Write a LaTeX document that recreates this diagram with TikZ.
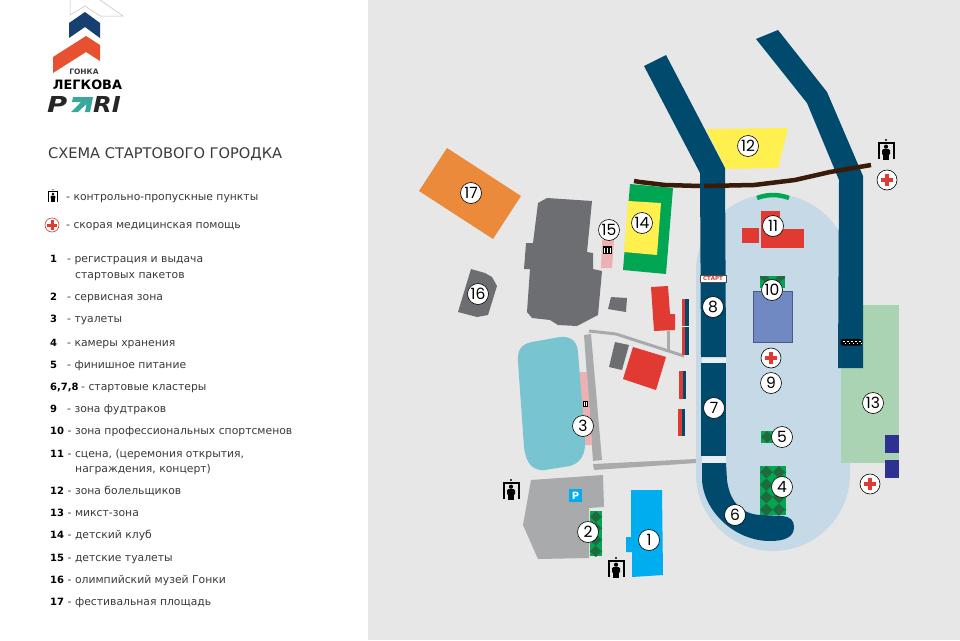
\documentclass[tikz,border=0pt]{standalone}
\usepackage{fontspec}
\setmainfont{DejaVu Sans}
\newfontfamily\numfont{Poppins}
\definecolor{bgr}{HTML}{E7E7E8}
\definecolor{trk}{HTML}{004A6E}
\definecolor{oval}{HTML}{C5D9E6}
\definecolor{gapc}{HTML}{E8EEF2}
\definecolor{redz}{HTML}{E03A33}
\definecolor{darkg}{HTML}{6D6E71}
\definecolor{lgray}{HTML}{A9AAAC}
\definecolor{gre}{HTML}{00A651}
\definecolor{dgre}{HTML}{1F6B3F}
\definecolor{yel}{HTML}{FFF04F}
\definecolor{teal1}{HTML}{78C4D0}
\definecolor{pink1}{HTML}{EDB1B3}
\definecolor{mint}{HTML}{A9D3B3}
\definecolor{navy1}{HTML}{2E3192}
\definecolor{slate}{HTML}{7189C2}
\definecolor{slated}{HTML}{4C5A86}
\definecolor{sky}{HTML}{00AEEF}
\definecolor{orange1}{HTML}{EB8A3A}
\definecolor{brown1}{HTML}{3A1A08}
\definecolor{txt}{HTML}{3A3A3C}
\definecolor{logob}{HTML}{173F6F}
\definecolor{logor}{HTML}{E8512F}
\definecolor{logot}{HTML}{38A89D}
\tikzset{
  x=1pt,y=-1pt,
  num/.style={circle,draw=black,fill=white,line width=0.6pt,minimum size=21pt,inner sep=0pt,font=\numfont\fontsize{15.5}{15}\selectfont},
  leg/.style={anchor=base west,inner sep=0pt,text=txt,font=\fontsize{10.8}{12}\selectfont},
  legn/.style={anchor=base west,inner sep=0pt,text=black,font=\bfseries\fontsize{10}{12}\selectfont},
  medc/.style={circle,draw=black,fill=white,line width=0.6pt,minimum size=20pt,inner sep=0pt},
}
\newcommand{\redcross}[3]{%
  \fill[redz] (#1-#3,#2-0.3*#3) rectangle (#1+#3,#2+0.3*#3);
  \fill[redz] (#1-0.3*#3,#2-#3) rectangle (#1+0.3*#3,#2+#3);}
\newcommand{\gatei}[3]{% x y scale
  \begin{scope}[shift={(#1,#2)},scale=#3]
  \fill[black] (-8.5,-8) rectangle (8.5,-6.3);
  \fill[black] (-8.5,-8) rectangle (-6.5,9);
  \fill[black] (6.5,-8) rectangle (8.5,9);
  \fill[black] (0,-10) circle (1.1);
  \fill[black] (0,-3.3) circle (2.1);
  \fill[black,rounded corners=1.2] (-4,-0.8) rectangle (4,5);
  \fill[black] (-3,4) rectangle (3,9.5);
  \end{scope}}
\newcommand{\dpat}[5]{% x0 y0 x1 y1 cell
  \begin{scope}
  \clip (#1,#2) rectangle (#3,#4);
  \fill[gre] (#1,#2) rectangle (#3,#4);
  \pgfmathtruncatemacro{\nc}{ceil((#3-#1)/#5)}
  \pgfmathtruncatemacro{\nr}{ceil((#4-#2)/#5)}
  \foreach \ci in {1,...,\nc}{\foreach \ri in {1,...,\nr}{
    \pgfmathsetmacro{\cx}{#1+(\ci-0.5)*#5}
    \pgfmathsetmacro{\cy}{#2+(\ri-0.5)*#5}
    \fill[dgre] (\cx-#5/2,\cy)--(\cx,\cy-#5/2)--(\cx+#5/2,\cy)--(\cx,\cy+#5/2)--cycle;
  }}
  \end{scope}}
\begin{document}
\begin{tikzpicture}
\useasboundingbox (0,0) rectangle (960,640);
\fill[white] (0,0) rectangle (368,640);
\fill[bgr] (368,0) rectangle (960,640);
% logo
\draw[black!25,line width=0.5pt] (70,0)--(70,15)--(85,6)--(100,16)--(123,16)--(100,0);
\fill[logob] (69,23)--(85,12)--(100,23)--(100,38)--(85,27)--(69,38)--cycle;
\fill[logor] (53,57)--(86,36)--(100,45)--(100,61)--(86,52)--(53,73)--cycle;
\node[inner sep=0pt,font=\bfseries\fontsize{7.5}{9}\selectfont,text=txt] (lg1) at (84,71.5) {ГОНКА};
\node[inner sep=0pt,font=\bfseries\fontsize{12.9}{13}\selectfont,text=black] (lg2) at (87.5,85) {ЛЕГКОВА};
\node[inner sep=0pt,anchor=west,font=\bfseries\itshape\fontsize{22}{22}\selectfont,text=black!85] (lg3) at (47,104.5) {\scalebox{1.25}[1]{P}};
\node[inner sep=0pt,anchor=west,font=\bfseries\itshape\fontsize{22}{22}\selectfont,text=black!85] (lg4) at (93,104.5) {\scalebox{1.1}[1]{RI}};
\fill[logot] (73,97)--(93,97)--(90,112)--(85,112)--(86.5,104)--(78,112)--(71,112)--(81,102)--(72,102)--cycle;
% legend
\node[anchor=base west,inner sep=0pt,text=txt,font=\fontsize{14.6}{15}\selectfont] (ttl) at (48,158) {СХЕМА СТАРТОВОГО ГОРОДКА};
\gatei{53}{196}{0.62}
\draw[redz,line width=0.6pt] (52,225) circle (7);
\redcross{52}{225}{5}
\node[leg] (l0a) at (66,200) {- контрольно-пропускные пункты};
\node[leg] (l0b) at (66,228) {- скорая медицинская помощь};
\foreach \n/\yy/\tt in {1/262/{- регистрация и выдача},2/300/{- сервисная зона},3/322/{- туалеты},4/346/{- камеры хранения},5/368/{- финишное питание}}{
  \node[legn] at (50,\yy) {\n};
  \node[leg] at (67,\yy) {\tt};
}
\node[leg] (l1b) at (75,278) {стартовых пакетов};
\node[legn] (n678) at (50,390) {6,7,8};
\node[leg] (t678) at (81,390) {- стартовые кластеры};
\node[legn] (n9) at (50,412) {9};
\node[leg] (t9) at (67,412) {- зона фудтраков};
\foreach \n/\yy/\tt in {10/434/{- зона профессиональных спортсменов},11/457/{- сцена, (церемония открытия,},12/494/{- зона болельщиков},13/516/{- микст-зона},14/538/{- детский клуб},15/561/{- детские туалеты},16/583/{- олимпийский музей Гонки},17/605/{- фестивальная площадь}}{
  \node[legn] at (50,\yy) {\n};
  \node[leg] at (67.5,\yy) {\tt};
}
\node[leg] (l11b) at (75,472) {награждения, концерт)};
% orange
\fill[orange1] (447,148)--(521,196)--(493,239)--(419,191)--cycle;
% museum
\fill[darkg] (538,203)--(547,198)--(592,201)--(587,252)--(593,253)--(593,269)--(602,271)--(598,315)--(577,326)--(558,325)--(550,320)--(532,318)--(527,312)--(530,269)--(524,269)--(526,243)--(533,243)--cycle;
% 16
\fill[darkg] (471,269)--(485,273)--(492,277)--(497,286)--(488,315)--(477,317)--(458,312)--cycle;
% pink 15
\fill[pink1] (602,240)--(614,240)--(612,268)--(601,268)--cycle;
\fill[black] (603,246) rectangle (612,254);
\foreach \xi in {604.5,607.5,610.5}{\fill[white] (\xi-0.7,247.5) rectangle (\xi+0.7,252.5);}
% 14
\fill[gre] (630,184)--(673,188)--(666,274)--(623,270)--cycle;
\fill[yel] (628,201)--(661,203)--(657,255)--(624,252)--cycle;
% small greys
\fill[darkg] (611,297)--(627,298)--(626,312)--(608,309)--cycle;
\fill[darkg] (615,342)--(629,345)--(622,370)--(609,367)--cycle;
% reds
\fill[redz] (651,287)--(668,286)--(670,314)--(675,314)--(675,330)--(654,331)--cycle;
\fill[redz] (633,347)--(666,357)--(656,390)--(623,379)--cycle;
% light grey roads
\draw[lgray,line width=3pt] (589,331)--(616,334)--(684,356);
\draw[lgray,line width=3pt] (668,331)--(668,350);
\fill[lgray] (584,335)--(591,334)--(602,460)--(593,461)--cycle;
\fill[lgray] (593,464)--(696,459)--(696,463)--(594,470)--cycle;
% teal lake and pink
\fill[pink1] (579,372)--(587,372)--(592,445)--(585,445)--cycle;
\fill[teal1] (518,362) .. controls (517,349) and (522,344) .. (532,342) -- (560,337) .. controls (572,336) and (577,342) .. (578,352) -- (585,440) .. controls (586,455) and (580,463) .. (570,466) -- (545,470) .. controls (533,471) and (526,464) .. (524,447) -- cycle;
\fill[black] (583,401) rectangle (588,407);
\fill[white] (584,402) rectangle (585,406);\fill[white] (586,402) rectangle (587,406);
% parking
\fill[lgray] (531,480)--(603,475)--(604,507)--(589,508)--(589,558)--(538,559)--(523,525)--cycle;
\fill[sky] (569,489) rectangle (582,502);
\node[inner sep=0pt,text=white,font=\bfseries\fontsize{10}{10}\selectfont] (pk) at (575.5,495.5) {P};
\dpat{590}{511}{602}{556}{11.5}
% 1
\fill[sky] (631,490)--(662,490)--(663,575)--(632,577)--(632,552)--(626,552)--(626,537)--(631,537)--cycle;
% oval
\fill[oval,rounded corners=77pt] (696,194) rectangle (850,551);
% zone 13
\fill[mint] (841,305) rectangle (899,463);
\fill[navy1] (885,435) rectangle (899,453);
\fill[navy1] (885,460) rectangle (899,478);
% barriers
\fill[redz] (682,299) rectangle (685,355);
\fill[trk] (685,299) rectangle (689,355);
\fill[white] (682,325.7) rectangle (689,326.3);
\fill[redz] (679,371) rectangle (682.5,399);
\fill[trk] (682.5,371) rectangle (686,399);
\fill[redz] (678,409) rectangle (681.5,436);
\fill[trk] (681.5,409) rectangle (685,436);
% yellow 12
\fill[yel] (706,129)--(788,128)--(778,168)--(726,169)--cycle;
% tracks
\fill[gapc] (702,357) rectangle (726,363);
\fill[gapc] (702,456) rectangle (726,463);
\fill[trk] (644,66)--(666,55)--(725,168)--(726,357)--(701,357)--(700,173)--cycle;
\fill[trk] (701,363) rectangle (726,456);
\fill[trk] (702,463)--(702,480) .. controls (704,512) and (735,541) .. (770,541) .. controls (785,541) and (794,537) .. (794,527) .. controls (794,520) and (790,517) .. (783,516) -- (762,515) .. controls (745,515) and (730,505) .. (727,480) -- (726,463) -- cycle;
\fill[trk] (756,39)--(778,30)--(827,92)--(863,176)--(863,368)--(838,368)--(839,180)--(807,103)--cycle;
% brown line
\draw[brown1,line width=4.5pt] (634,181)--(640,182)--(665,185)--(700,186);
\draw[brown1,line width=4.5pt] (704,186)--(754,185)--(795,180)--(830,172)--(871,165);
% stage
\draw[gre,line width=4.5pt] (757,198) .. controls (768,194) and (778,194) .. (789,198);
\fill[redz] (761,211) rectangle (780,230);
\fill[redz] (742,228) rectangle (759,243);
\fill[redz] (761,229) rectangle (804,248);
% 10
\fill[gre] (760,276) rectangle (785,288);
\fill[dgre] (760,276)--(767,276)--(772,282)--(778,276)--(785,276)--(785,278)--(772,288)--(760,278)--cycle;
\fill[slate,draw=slated,line width=1pt] (753,291.5) rectangle (792.5,342);
% 5 4
\dpat{761}{431}{773}{443}{12}
\dpat{760}{466}{786}{515}{12.5}
% start finish
\node[draw=black!70,fill=white,inner sep=0pt,minimum width=26pt,minimum height=7pt,line width=0.5pt,text=redz,font=\bfseries\fontsize{5.5}{6}\selectfont] (start) at (713,278.5) {СТАРТ};
\fill[black,rounded corners=2pt] (840.5,339) rectangle (862,345.5);
\foreach \xi in {843,847,851,855,859}{\fill[white] (\xi,340.5) rectangle (\xi+1.6,342);\fill[white] (\xi+1.6,342.5) rectangle (\xi+3,344);}
% numbers
\node[num] (n1) at (649,540) {1};
\node[num] (n2) at (588,532) {2};
\node[num] (n3) at (583,426) {3};
\node[num] (n4) at (782,487) {4};
\node[num] (n5) at (782,437) {5};
\node[num] (n6) at (735,515) {6};
\node[num] (n7) at (714,408) {7};
\node[num] (n8) at (713,307) {8};
\node[num] (n9c) at (771,383) {9};
\node[num] (n10) at (772,290) {10};
\node[num] (n11) at (773,226) {11};
\node[num] (n12) at (748,146) {12};
\node[num] (n13) at (873,403) {13};
\node[num] (n14) at (642,223) {14};
\node[num] (n15) at (609,230) {15};
\node[num] (n16) at (478,294) {16};
\node[num] (n17) at (471,193) {17};
% medical
\node[medc] (m1) at (887,180) {};
\redcross{887}{180}{6}
\node[medc] (m2) at (771,358) {};
\redcross{771}{358}{6}
\node[medc] (m3) at (870,484) {};
\redcross{870}{484}{6}
% gates
\gatei{886}{150}{1}
\gatei{511}{490}{1}
\gatei{616}{568}{1}
\end{tikzpicture}
\end{document}
